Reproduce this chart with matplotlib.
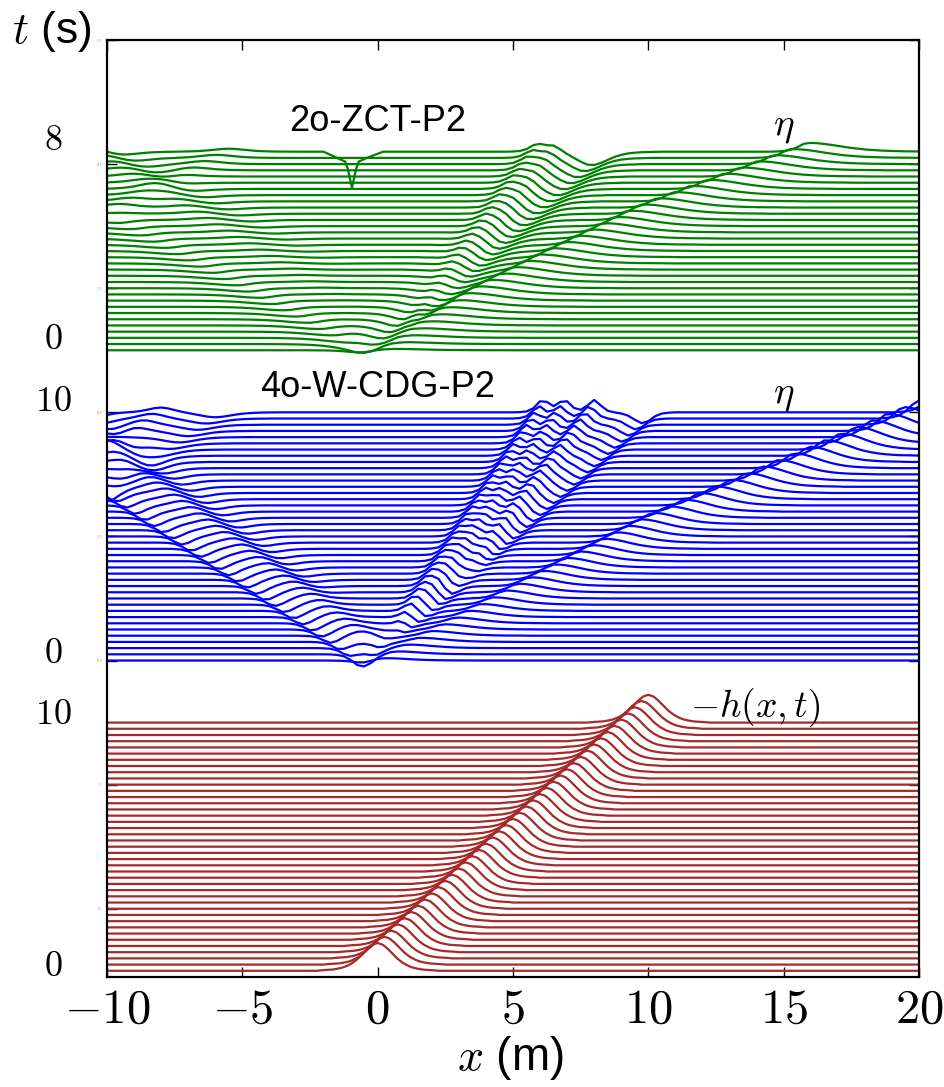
import numpy as np
import matplotlib.pyplot as plt

plt.rcParams['mathtext.fontset'] = 'cm'
plt.rcParams['font.family'] = ['Liberation Sans', 'DejaVu Sans']

# half of a sech^2-like crest, read from the -h(x,t) bump (mirrored for the other side)
shape_s = [0, 0.25, 0.5, 0.75, 1.0, 1.25, 1.5, 1.75, 2.0, 2.25, 2.5, 2.75, 3.0]
shape_v = [1.0, 0.94, 0.79, 0.60, 0.42, 0.28, 0.18, 0.11, 0.07, 0.04, 0.03, 0.02, 0.0]

# times of the stacked profiles
red_t = np.arange(0, 10.01, 0.25)
blue_t = np.arange(0, 10.01, 0.25)
green_t = np.arange(0, 8.01, 0.25)

# bottom bump -h(x,t): key times, bump centre, height
red_key_t = [0, 10]
red_key_x = [0.0, 10.0]
red_amp = 1.12

# waves:
# (key times, crest positions, amplitudes, back width, front width)
green_waves = [
    ([0, 2.1, 5.6, 8], [0.1, 3.35, 10.0, 15.9], [0.08, 0.35, 0.38, 0.36], 0.45, 1.6),
    ([0, 0.25, 2, 8], [-0.55, -0.4, 1.8, 7.9], [-0.1, -0.25, -0.4, -0.55], 0.7, 0.8),
    ([0.5, 1.5, 8], [0.5, 1.4, 5.9], [0.0, 0.25, 0.3], 0.35, 0.35),
    ([2, 3, 8], [2.0, 2.8, 6.5], [0.0, 0.2, 0.25], 0.35, 0.35),
    ([0.25, 5.5], [-0.8, -10.0], [-0.15, -0.12], 1.2, 0.6),
    ([1.5, 8], [-0.5, -10.5], [0.0, 0.15], 0.8, 0.8),
    ([3, 8], [-0.8, -9.5], [0.0, -0.15], 0.8, 0.8),
    ([5.5, 8], [-10.0, -5.5], [0.15, 0.12], 0.8, 0.8),
]
blue_waves = [
    ([0, 2.8, 5.5, 10], [0.2, 5.3, 10.2, 20.6], [0.1, 0.35, 0.45, 0.75], 0.5, 1.2),
    ([0, 0.25, 2, 10], [-0.55, -0.4, 1.7, 9.8], [-0.1, -0.25, -0.35, -0.45], 0.45, 0.4),
    ([0.5, 1.5, 10], [0.2, 0.9, 6.1], [0.0, 0.35, 0.5], 0.3, 0.3),
    ([1.5, 2.5, 10], [1.1, 1.9, 6.9], [0.0, 0.35, 0.5], 0.3, 0.3),
    ([3, 4, 10], [2.8, 3.6, 8.0], [0.0, 0.35, 0.5], 0.3, 0.3),
    ([0.25, 7], [-0.7, -10.0], [-0.3, -0.35], 0.37, 0.5),
    ([1, 8.5], [-0.6, -10.0], [0.2, 0.2], 0.6, 0.6),
    ([2.5, 3.5, 10], [-1.5, -2.8, -10.5], [0.0, -0.15, -0.2], 0.6, 0.6),
    ([7, 10], [-10.0, -6.0], [-0.25, -0.2], 0.8, 0.8),
    ([8.5, 10], [-10.0, -8.0], [0.2, 0.2], 0.6, 0.6),
]

# sharp dip in the last 2o-ZCT-P2 profile
dip_x = [-2.0, -1.5, -1.2, -1.1, -0.95, -0.8, -0.7, -0.4, 0.2]
dip_y = [0.0, -0.25, -0.4, -0.7, -1.45, -0.7, -0.4, -0.25, 0.0]

offsets = {'red': 0.0, 'blue': 12.5, 'green': 25.0}


def crest(x, xc, amp, wl, wr):
    s = np.where(x < xc, (xc - x) / wl, (x - xc) / wr)
    return amp * np.interp(s, shape_s, shape_v, right=0.0)


def surface(x, t, waves):
    eta = np.zeros_like(x)
    for kt, kx, ka, wl, wr in waves:
        if kt[0] <= t <= kt[-1]:
            eta += crest(x, np.interp(t, kt, kx), np.interp(t, kt, ka), wl, wr)
    return eta


fig = plt.figure(figsize=(9.44, 10.87), dpi=100)
ax = fig.add_axes([107 / 944, 110 / 1087, 812 / 944, 937 / 1087])

xs = np.arange(-10, 20.001, 0.05)
for t in red_t:
    xc = np.interp(t, red_key_t, red_key_x)
    ax.plot(xs, offsets['red'] + t + crest(xs, xc, red_amp, 0.75, 0.75),
            color='brown', lw=1.6)

xe = np.arange(-10, 20.001, 0.25)
for t in blue_t:
    ax.plot(xe, offsets['blue'] + t + surface(xe, t, blue_waves), color='b', lw=1.6)

for t in green_t:
    eta = surface(xe, t, green_waves)
    xl = xe
    if t == green_t[-1]:
        xl = np.union1d(xe, dip_x)
        eta = np.interp(xl, xe, eta) + np.interp(xl, dip_x, dip_y, left=0, right=0)
    ax.plot(xl, offsets['green'] + t + eta, color='g', lw=1.6)

ax.set_xlim(-10, 20)
ax.set_ylim(-0.25, 37.5)
xt = [-10, -5, 0, 5, 10, 15, 20]
ax.set_xticks(xt)
ax.set_xticklabels([r'$%d$' % v for v in xt], fontsize=35)
yt = np.arange(2.5, 37.6, 5)
ax.set_yticks(yt)
ax.set_yticklabels(['%g' % v for v in yt], fontsize=2, color='0.6')
ax.tick_params(direction='in', top=True, right=True, length=7, width=1)
ax.tick_params(axis='x', pad=8)
for sp in ax.spines.values():
    sp.set_linewidth(1.6)

# t labels for the three panels
for lab, y in [('$0$', 0.17), ('$10$', 10.33), ('$0$', 12.78), ('$10$', 22.94),
               ('$0$', 25.45), ('$8$', 33.45)]:
    ax.text(-11.97, y, lab, fontsize=26, ha='center', va='center', clip_on=False)

ax.text(0, 34.2, '2o-ZCT-P2', fontsize=26, ha='center', va='center')
ax.text(0, 23.5, '4o-W-CDG-P2', fontsize=26, ha='center', va='center')
ax.text(15.0, 34.0, r'$\eta$', fontsize=28, ha='center', va='center')
ax.text(15.0, 23.2, r'$\eta$', fontsize=28, ha='center', va='center')
ax.text(13.95, 10.61, r'$-h(x,t)$', fontsize=27, ha='center', va='center')

fig.text(12 / 944, 1 - 32 / 1087, r'$t$ (s)', fontsize=32, ha='left', va='center')
fig.text(510 / 944, 1 - 1058 / 1087, r'$x$ (m)', fontsize=33, ha='center', va='center')

fig.savefig('out.png', dpi=100)
